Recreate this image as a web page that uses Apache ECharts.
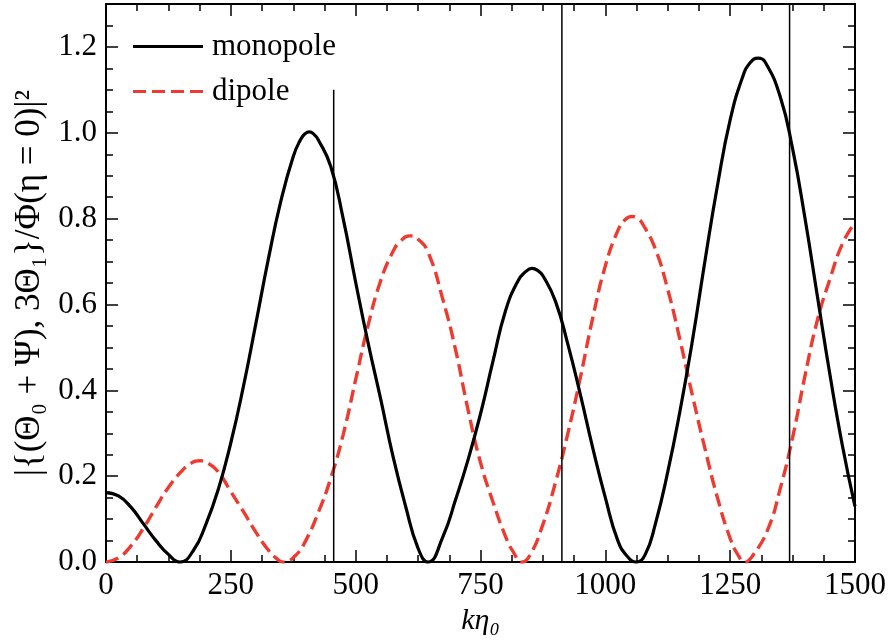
<!DOCTYPE html>
<html><head><meta charset="utf-8">
<script src="https://cdn.jsdelivr.net/npm/echarts@6/dist/echarts.min.js"></script>
<style>html,body{margin:0;padding:0;background:#fff}#c{width:891px;height:641px}</style>
</head><body><div id="c"></div>
<script>
// monopole |Θ0+Ψ|^2 : kη0 positions and values
const monoK = [0,25,50,75,100,125,148,175,200,225,250,275,300,325,350,375,390,398,407,416,425,450,475,500,525,550,575,600,625,645,675,700,725,750,775,800,825,840,853,865,875,900,925,950,975,1000,1025,1045,1062,1080,1100,1125,1150,1175,1200,1225,1250,1275,1290,1306,1320,1350,1375,1400,1425,1450,1475,1500];
const monoV = [0.162,0.154,0.128,0.089,0.050,0.018,0.000,0.027,0.088,0.170,0.278,0.408,0.555,0.705,0.840,0.945,0.985,0.997,1.002,0.997,0.984,0.922,0.800,0.652,0.510,0.380,0.245,0.130,0.032,0.000,0.060,0.145,0.238,0.345,0.468,0.585,0.655,0.676,0.684,0.679,0.667,0.608,0.507,0.390,0.265,0.150,0.050,0.012,0.000,0.018,0.088,0.210,0.355,0.520,0.705,0.880,1.030,1.130,1.163,1.174,1.165,1.085,0.963,0.800,0.617,0.435,0.270,0.130];
// dipole |3Θ1|^2
const dipK = [0,25,50,75,100,125,150,170,188,205,225,250,275,300,325,340,355,380,400,425,450,475,500,525,550,575,590,609,625,645,675,700,725,750,775,800,815,833,850,875,900,925,950,975,1000,1025,1040,1053,1065,1075,1100,1125,1150,1175,1200,1225,1250,1265,1280,1295,1325,1350,1375,1400,1425,1450,1475,1500];
const dipV = [0.000,0.010,0.038,0.079,0.128,0.174,0.210,0.230,0.236,0.230,0.210,0.164,0.118,0.070,0.028,0.010,0.000,0.016,0.050,0.115,0.195,0.297,0.425,0.552,0.655,0.724,0.748,0.760,0.752,0.722,0.610,0.495,0.355,0.232,0.140,0.060,0.025,0.000,0.018,0.088,0.185,0.300,0.430,0.570,0.690,0.772,0.798,0.805,0.800,0.787,0.730,0.635,0.515,0.385,0.262,0.148,0.055,0.018,0.000,0.015,0.075,0.170,0.290,0.435,0.565,0.660,0.742,0.791];
const seriesNames = ['monopole', 'dipole'];
const vLineX = [456, 913, 1369];
const vLineTop = [1.1, 1.3, 1.3];
const xMin = 0, xMax = 1500, xMajor = 250, xMinor = 62.5;
const yMin = 0, yMax = 1.3, yMajor = 0.2, yMinor = 0.05;
const xName = 'kη₀';
const yName = '|{(Θ₀ + Ψ), 3Θ₁}/Φ(η = 0)|²';

const FONT = 'Liberation Serif';
const RED = '#ee3b31';
const chart = echarts.init(document.getElementById('c'), null, {renderer: 'canvas'});

function xAxisDef(pos, interval, len, main) {
  return {
    type: 'value', position: pos, min: xMin, max: xMax, interval: interval,
    axisLine: {show: main, onZero: false, lineStyle: {color: '#000', width: 2}},
    axisTick: {show: true, inside: true, length: len, lineStyle: {color: '#000', width: 1.5}},
    axisLabel: {show: main && pos === 'bottom', margin: 8, formatter: v => String(v),
      fontFamily: FONT, fontSize: 31, color: '#000'},
    splitLine: {show: false},
    name: (main && pos === 'bottom') ? xName : '',
    nameLocation: 'middle', nameGap: 40,
    nameTextStyle: {fontFamily: FONT, fontSize: 30, fontStyle: 'italic', color: '#000'}
  };
}
function yAxisDef(pos, interval, len, main) {
  return {
    type: 'value', position: pos, min: yMin, max: yMax, interval: interval,
    axisLine: {show: main, onZero: false, lineStyle: {color: '#000', width: 2}},
    axisTick: {show: true, inside: true, length: len, lineStyle: {color: '#000', width: 1.5}},
    axisLabel: {show: main && pos === 'left', margin: 9, showMaxLabel: false, padding: [5, 0, 0, 0],
      formatter: v => v.toFixed(1), fontFamily: FONT, fontSize: 31, color: '#000'},
    splitLine: {show: false},
    name: (main && pos === 'left') ? yName : '',
    nameLocation: 'middle', nameGap: 56,
    nameTextStyle: {fontFamily: FONT, fontSize: 35, color: '#000'}
  };
}

const series = [
  {name: seriesNames[0], type: 'line', data: monoK.map((k, i) => [k, monoV[i]]),
   symbol: 'none', smooth: 0.5, z: 4,
   lineStyle: {color: '#000', width: 3.2}, itemStyle: {color: '#000'}},
  {name: seriesNames[1], type: 'line', data: dipK.map((k, i) => [k, dipV[i]]),
   symbol: 'none', smooth: 0.5, z: 3,
   lineStyle: {color: RED, width: 3.4, type: [13, 6]}, itemStyle: {color: RED}}
];
vLineX.forEach((x, i) => {
  series.push({type: 'line', data: [[x, yMin], [x, vLineTop[i]]], symbol: 'none', silent: true, z: 5,
    lineStyle: {color: '#000', width: 1.5}});
});

chart.setOption({
  animation: false,
  backgroundColor: '#fff',
  grid: {left: 106, right: 36, top: 4, bottom: 77, containLabel: false},
  xAxis: [xAxisDef('bottom', xMajor, 12, true), xAxisDef('bottom', xMinor, 7, false),
          xAxisDef('top', xMajor, 12, true), xAxisDef('top', xMinor, 7, false)],
  yAxis: [yAxisDef('left', yMajor, 12, true), yAxisDef('left', yMinor, 7, false),
          yAxisDef('right', yMajor, 12, true), yAxisDef('right', yMinor, 7, false)],
  legend: {
    data: [
      {name: seriesNames[0], icon: 'path://M0,0H70V3H0Z'},
      {name: seriesNames[1], icon: 'path://M0,0H13V3H0Z M19,0H32V3H19Z M38,0H51V3H38Z M57,0H70V3H57Z'}
    ],
    orient: 'vertical', left: 133, top: 31, padding: 0,
    itemWidth: 70, itemHeight: 3, itemGap: 14,
    textStyle: {fontFamily: FONT, fontSize: 31, color: '#000', lineHeight: 30, padding: [0, 0, 0, 4]}
  },
  series: series
});
</script></body></html>
